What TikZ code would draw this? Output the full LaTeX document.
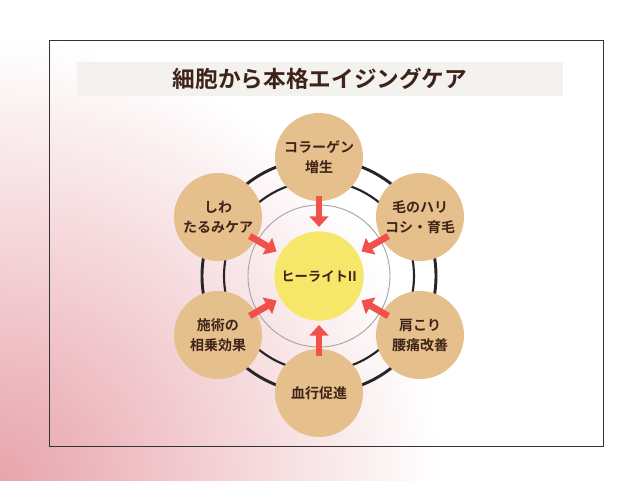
\documentclass[tikz,border=0pt]{standalone}
\usepackage{fontspec}
\setmainfont{Noto Sans CJK JP}[BoldFont={Noto Sans CJK JP Bold}]
\usepackage{xcolor}
\definecolor{bgpink}{HTML}{E8A4AC}
\definecolor{txtbrown}{HTML}{3E2418}
\definecolor{satfill}{HTML}{E6C08C}
\definecolor{hubfill}{HTML}{F6E66A}
\definecolor{arrowred}{HTML}{F2504A}
\definecolor{titlebar}{HTML}{F3F2EE}
\usetikzlibrary{arrows.meta}

\begin{document}
\begin{tikzpicture}[x=0.75pt,y=-0.75pt,line width=1pt]
              \tikzstyle{sat}=[circle,fill=satfill,text=txtbrown,minimum size=66pt,align=center,font=\bfseries\fontsize{10.5}{15}\selectfont,inner sep=0pt]
              \tikzstyle{hub}=[circle,fill=hubfill,text=txtbrown,minimum size=67pt,font=\bfseries\fontsize{10}{12}\selectfont]
              \tikzstyle{ring}=[draw=black!85,line width=2.2pt]
              \tikzstyle{feed}=[draw=arrowred,line width=5pt,-{Triangle[width=14pt,length=8pt]}]

              % background
              \useasboundingbox (0,0) rectangle (640,480);
              \clip (0,0) rectangle (640,480);
              \fill[white] (0,0) rectangle (640,480);
              \shade[inner color=bgpink,outer color=white] (0,480) circle[radius=440];
              \draw[black!80,line width=0.6pt] (49,40) rectangle (603,446);
              \fill[titlebar] (77,62) rectangle (563,96);
              \node[text=txtbrown,font=\bfseries\fontsize{17}{20}\selectfont] (title) at (320,79) {細胞から本格エイジングケア};

              % rings
              \coordinate (O) at (319,276);
              \draw[ring] (O) circle[radius=117];
              \draw[ring,line width=1.6pt] (O) circle[radius=95];
              \draw[black!35,line width=0.7pt] (O) circle[radius=71];

              \node[hub] (H) at (O) {ヒーライトII};

              \node[sat] (S1) at (319,157) {コラーゲン\\増生};
              \node[sat] (S2) at (420,217) {毛のハリ\\コシ・育毛};
              \node[sat] (S3) at (420,335) {肩こり\\腰痛改善};
              \node[sat] (S4) at (319,393) {血行促進};
              \node[sat] (S5) at (218,335) {施術の\\相乗効果};
              \node[sat] (S6) at (218,217) {しわ\\たるみケア};

              \foreach \a in {90,30,-30,-90,-150,150}
                \draw[feed] ([shift={(\a:80)}]O) -- ([shift={(\a:49)}]O);
\end{tikzpicture}
\end{document}
